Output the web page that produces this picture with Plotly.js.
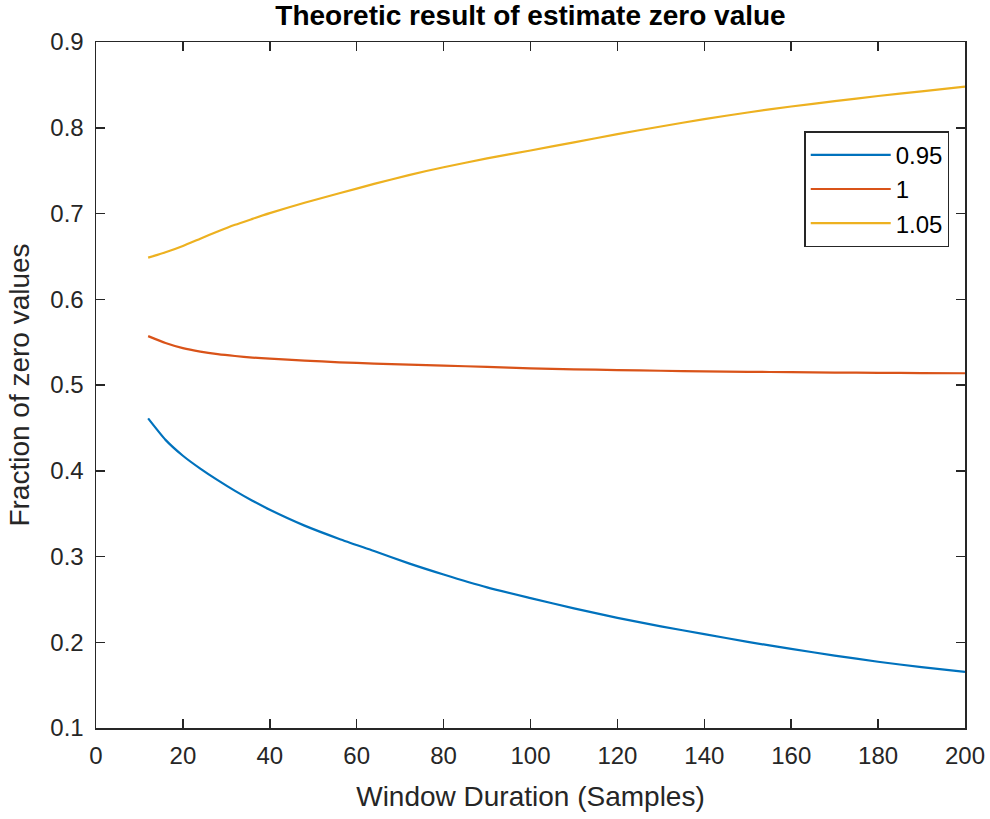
<!DOCTYPE html>
<html>
<head>
<meta charset="utf-8">
<script src="https://cdn.plot.ly/plotly-3.0.1.min.js"></script>
<style>html,body{margin:0;padding:0;background:#fff;}#chart{width:990px;height:819px;}</style>
</head>
<body>
<div id="chart"></div>
<script>
var windowDuration = [12,16,20,24,28,32,36,40,48,56,64,72,80,90,100,110,120,130,140,150,160,170,180,190,200];
var frac095 = [0.461,0.436,0.4175,0.4025,0.389,0.3765,0.365,0.3545,0.336,0.3205,0.3064,0.292,0.279,0.264,0.2515,0.2395,0.2285,0.2185,0.2095,0.2005,0.1922,0.1845,0.1773,0.171,0.1655];
var frac100 = [0.557,0.549,0.543,0.539,0.536,0.5338,0.532,0.5307,0.5285,0.5265,0.525,0.5237,0.5226,0.5211,0.5195,0.5183,0.5174,0.5166,0.516,0.5154,0.5149,0.5145,0.5142,0.5139,0.5137];
var frac105 = [0.6485,0.6548,0.6622,0.6706,0.679,0.6868,0.6937,0.7004,0.7125,0.7236,0.7345,0.7448,0.754,0.7642,0.7735,0.783,0.7925,0.8015,0.81,0.8178,0.8248,0.831,0.837,0.8425,0.8479];
var seriesNames = ['0.95','1','1.05'];
var xTicks = [0,20,40,60,80,100,120,140,160,180,200];
var yTicks = [0.1,0.2,0.3,0.4,0.5,0.6,0.7,0.8,0.9];
var yTickText = ['0.1','0.2','0.3','0.4','0.5','0.6','0.7','0.8','0.9'];

var colors = ['#0072BD','#D95319','#EDB120'];
var ys = [frac095, frac100, frac105];
var traces = ys.map(function(y,i){
  return {x: windowDuration, y: y, type:'scatter', mode:'lines', name: seriesNames[i],
          line:{color:colors[i], width:2.2, shape:'spline', smoothing:0.6}};
});
var font = 'Liberation Sans, Arial, Helvetica, sans-serif';
var axisCommon = {
  showline:true, linecolor:'#262626', linewidth:1.5, mirror:'ticks',
  ticks:'inside', ticklen:9, tickwidth:1.5, tickcolor:'#262626',
  showgrid:false, zeroline:false,
  tickfont:{family:font, size:24, color:'#262626'}
};
var layout = {
  width:990, height:819,
  margin:{l:96, r:25, t:42, b:91},
  paper_bgcolor:'#fff', plot_bgcolor:'#fff',
  title:{text:'<b>Theoretic result of estimate zero value</b>', font:{family:font, size:28, color:'#000'}, x:0.5, xref:'paper', xanchor:'center', y:0.993, yanchor:'top'},
  xaxis: Object.assign({}, axisCommon, {range:[0,200], tickvals:xTicks, ticklabelstandoff:6,
    title:{text:'Window Duration (Samples)', font:{family:font, size:28, color:'#262626'}, standoff:18}}),
  yaxis: Object.assign({}, axisCommon, {range:[0.1,0.9], tickvals:yTicks, ticktext:yTickText, ticklabelstandoff:6,
    title:{text:'Fraction of zero values', font:{family:font, size:28, color:'#262626'}, standoff:12}}),
  showlegend:true,
  legend:{x:0.815, y:0.87, xanchor:'left', yanchor:'top', bgcolor:'#fff', bordercolor:'#262626', borderwidth:1.5,
    font:{family:font, size:24, color:'#000'}, itemwidth:80, tracegroupgap:0}
};
Plotly.newPlot('chart', traces, layout, {displayModeBar:false, staticPlot:true});
</script>
</body>
</html>
